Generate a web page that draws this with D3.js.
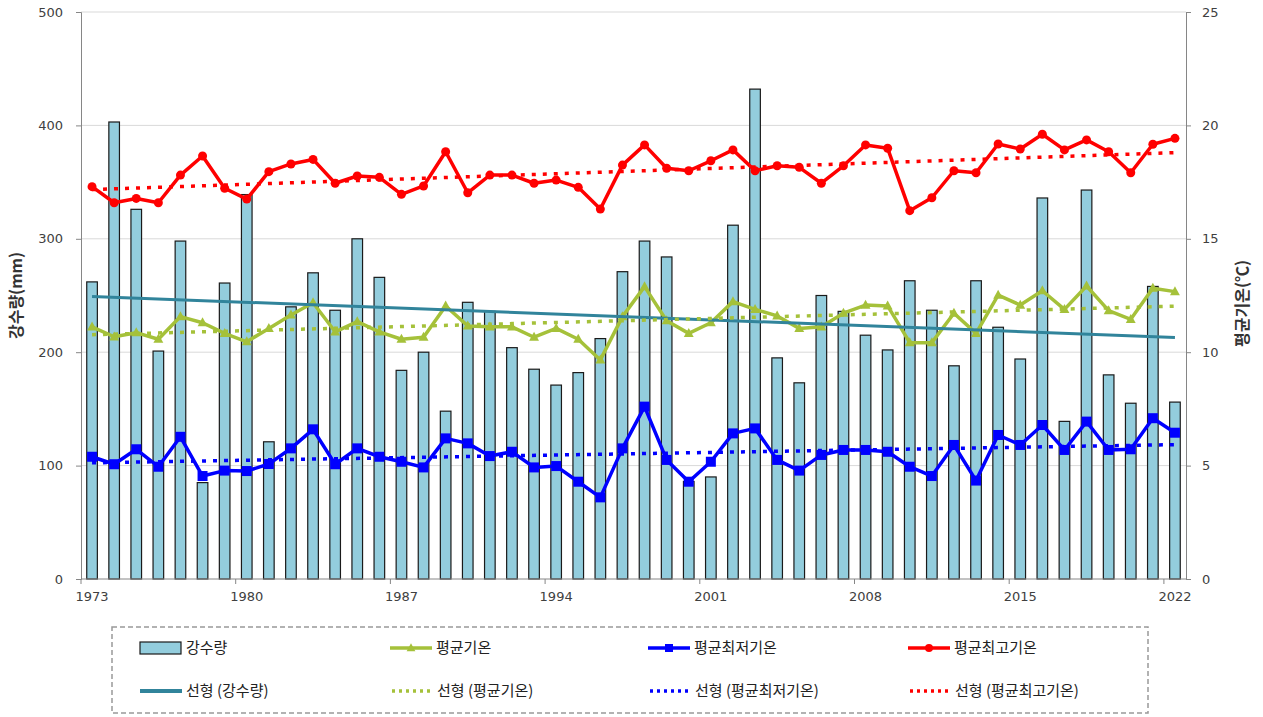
<!DOCTYPE html>
<html>
<head>
<meta charset="utf-8">
<script src="https://cdn.jsdelivr.net/npm/d3@7"></script>
<style>
  body { margin: 0; background: #fff; }
  svg { display: block; }
</style>
</head>
<body>
<svg id="chart" width="1263" height="717"></svg>
<script>
const years = [1973, 1974, 1975, 1976, 1977, 1978, 1979, 1980, 1981, 1982,
    1983, 1984, 1985, 1986, 1987, 1988, 1989, 1990, 1991, 1992,
    1993, 1994, 1995, 1996, 1997, 1998, 1999, 2000, 2001, 2002,
    2003, 2004, 2005, 2006, 2007, 2008, 2009, 2010, 2011, 2012,
    2013, 2014, 2015, 2016, 2017, 2018, 2019, 2020, 2021, 2022];

// 강수량 (mm)
const rain = [262, 403, 326, 201, 298, 85, 261, 339, 121, 240,
    270, 237, 300, 266, 184, 200, 148, 244, 236, 204,
    185, 171, 182, 212, 271, 298, 284, 86, 90, 312,
    432, 195, 173, 250, 236, 215, 202, 263, 237, 188,
    263, 222, 194, 336, 139, 343, 180, 155, 258, 156];

// 평균기온
const avgTemp = [11.12, 10.68, 10.86, 10.57, 11.57, 11.30, 10.83, 10.46, 11.05, 11.64,
    12.18, 10.90, 11.35, 10.90, 10.57, 10.66, 12.04, 11.16, 11.12, 11.12,
    10.66, 11.05, 10.57, 9.66, 11.57, 12.89, 11.39, 10.83, 11.30, 12.23,
    11.89, 11.60, 11.05, 11.12, 11.72, 12.08, 12.04, 10.42, 10.42, 11.72,
    10.83, 12.52, 12.08, 12.71, 11.89, 12.92, 11.83, 11.45, 12.82, 12.67];

// 평균최저기온
const minTemp = [5.39, 5.06, 5.72, 4.95, 6.27, 4.54, 4.78, 4.76, 5.07, 5.76,
    6.60, 5.06, 5.76, 5.39, 5.17, 4.92, 6.20, 5.98, 5.42, 5.61,
    4.92, 4.98, 4.29, 3.60, 5.76, 7.60, 5.25, 4.29, 5.17, 6.42,
    6.64, 5.25, 4.78, 5.47, 5.69, 5.69, 5.61, 4.95, 4.54, 5.91,
    4.34, 6.35, 5.91, 6.79, 5.69, 6.94, 5.69, 5.72, 7.09, 6.45];

// 평균최고기온
const maxTemp = [17.30, 16.59, 16.78, 16.59, 17.81, 18.65, 17.23, 16.75, 17.96, 18.30,
    18.50, 17.45, 17.77, 17.71, 16.96, 17.33, 18.84, 17.03, 17.81, 17.81,
    17.45, 17.59, 17.27, 16.31, 18.25, 19.14, 18.11, 18.00, 18.44, 18.92,
    18.00, 18.22, 18.15, 17.45, 18.22, 19.14, 18.99, 16.24, 16.81, 18.00,
    17.91, 19.18, 18.96, 19.61, 18.92, 19.36, 18.84, 17.91, 19.17, 19.43];

const labelYears = [1973, 1980, 1987, 1994, 2001, 2008, 2015, 2022];
const rainTicks = [0, 100, 200, 300, 400, 500];
const tempTicks = [0, 5, 10, 15, 20, 25];

const COLORS = {
    bar: "#93cddd",
    avg: "#a5c13a",
    min: "#0000ff",
    max: "#ff0000",
    rainTrend: "#31849b",
    axis: "#868686",
    grid: "#d9d9d9",
    text: "#404040"
};

const KFONT = "'Noto Sans CJK KR', 'Noto Sans', sans-serif";
const NFONT = "'DejaVu Sans', Verdana, sans-serif";

const svg = d3.select("#chart");
const plotL = 81, plotR = 1186, plotT = 12, plotB = 579;

const x = d3.scaleBand().domain(years).range([plotL, plotR])
    .paddingInner(0.52).paddingOuter(0.26);
const yRain = d3.scaleLinear().domain([0, 500]).range([plotB, plotT]);
const yTemp = d3.scaleLinear().domain([0, 25]).range([plotB, plotT]);
const cx = d => x(d) + x.bandwidth() / 2;

// linear trend (least squares) like Excel's 선형 추세선
function trend(vals) {
    const n = vals.length;
    const xs = d3.range(n);
    const mx = d3.mean(xs), my = d3.mean(vals);
    let sxy = 0, sxx = 0;
    xs.forEach((xi, i) => { sxy += (xi - mx) * (vals[i] - my); sxx += (xi - mx) * (xi - mx); });
    const b = sxy / sxx, a = my - b * mx;
    return [[years[0], a], [years[n - 1], a + b * (n - 1)]];
}

// grid
svg.append("g")
    .selectAll("line")
    .data(rainTicks.slice(1))
    .enter().append("line")
    .attr("x1", plotL).attr("x2", plotR)
    .attr("y1", d => yRain(d)).attr("y2", d => yRain(d))
    .attr("stroke", COLORS.grid).attr("stroke-width", 1);

// bars
svg.append("g")
    .selectAll("rect")
    .data(years)
    .enter().append("rect")
    .attr("x", d => x(d))
    .attr("width", x.bandwidth())
    .attr("y", (d, i) => yRain(rain[i]))
    .attr("height", (d, i) => plotB - yRain(rain[i]))
    .attr("fill", COLORS.bar)
    .attr("stroke", "#1a1a1a")
    .attr("stroke-width", 1.2);

// axes
const gl = svg.append("g").attr("transform", `translate(${plotL},0)`)
    .call(d3.axisLeft(yRain).tickValues(rainTicks).tickSize(5).tickPadding(13));
const gr = svg.append("g").attr("transform", `translate(${plotR},0)`)
    .call(d3.axisRight(yTemp).tickValues(tempTicks).tickSize(5).tickPadding(11));
const gb = svg.append("g").attr("transform", `translate(0,${plotB})`)
    .call(d3.axisBottom(x).tickValues(labelYears).tickSize(0).tickPadding(13));
gb.selectAll(".domain").attr("d", `M${plotL},0H${plotR}`);

[gl, gr, gb].forEach(g => {
    g.selectAll(".domain").attr("stroke", COLORS.axis);
    g.selectAll(".tick line").attr("stroke", COLORS.axis);
    g.selectAll("text").attr("fill", COLORS.text)
        .style("font-family", NFONT).style("font-size", "13px");
});

// x tick marks sit between categories
const gap = x.step() * x.paddingInner() / 2;
svg.append("g")
    .selectAll("line")
    .data(labelYears)
    .enter().append("line")
    .attr("x1", d => x(d) - gap).attr("x2", d => x(d) - gap)
    .attr("y1", plotB).attr("y2", plotB + 5)
    .attr("stroke", COLORS.axis);

// axis titles
svg.append("text")
    .attr("transform", `translate(22,${(plotT + plotB) / 2}) rotate(-90)`)
    .attr("text-anchor", "middle")
    .style("font-family", KFONT).style("font-size", "16px").style("font-weight", "bold")
    .attr("fill", "#333")
    .text("강수량(mm)");
svg.append("text")
    .attr("transform", `translate(1248,${(plotT + plotB) / 2 + 8}) rotate(-90)`)
    .attr("text-anchor", "middle")
    .style("font-family", KFONT).style("font-size", "16px").style("font-weight", "bold")
    .attr("fill", "#333")
    .text("평균기온(℃)");

const line = d3.line().x(d => cx(d[0])).y(d => d[1]);

// trend lines
const trends = [
    { vals: rain, y: yRain, color: COLORS.rainTrend, dash: null },
    { vals: avgTemp, y: yTemp, color: COLORS.avg, dash: "4 7" },
    { vals: minTemp, y: yTemp, color: COLORS.min, dash: "4 7" },
    { vals: maxTemp, y: yTemp, color: COLORS.max, dash: "4 7" }
];

// series lines
const series = [
    { vals: avgTemp, color: COLORS.avg, marker: "tri" },
    { vals: minTemp, color: COLORS.min, marker: "sq" },
    { vals: maxTemp, color: COLORS.max, marker: "circ" }
];

function drawMarker(g, kind, color, px, py, s) {
    if (kind === "tri") {
        g.append("path").attr("d", `M${px},${py - s * 0.6}L${px + s * 0.55},${py + s * 0.4}L${px - s * 0.55},${py + s * 0.4}Z`)
            .attr("fill", color);
    } else if (kind === "sq") {
        g.append("rect").attr("x", px - s / 2).attr("y", py - s / 2).attr("width", s).attr("height", s)
            .attr("fill", color);
    } else {
        g.append("circle").attr("cx", px).attr("cy", py).attr("r", s / 2).attr("fill", color);
    }
}

const gs = svg.append("g");
series.forEach(s => {
    gs.append("path")
        .datum(years.map((yr, i) => [yr, yTemp(s.vals[i])]))
        .attr("d", line)
        .attr("fill", "none")
        .attr("stroke", s.color)
        .attr("stroke-width", 3.5)
        .attr("stroke-linejoin", "round");
    years.forEach((yr, i) => drawMarker(gs, s.marker, s.color, cx(yr), yTemp(s.vals[i]),
        s.marker === "sq" ? 10 : 9));
});

const gt = svg.append("g");
trends.forEach(t => {
    gt.append("path")
        .datum(trend(t.vals).map(p => [p[0], t.y(p[1])]))
        .attr("d", line)
        .attr("fill", "none")
        .attr("stroke", t.color)
        .attr("stroke-width", t.dash ? 3.5 : 3)
        .attr("stroke-dasharray", t.dash);
});

// legend
const lg = svg.append("g");
lg.append("rect")
    .attr("x", 112).attr("y", 627).attr("width", 1036).attr("height", 86)
    .attr("fill", "none").attr("stroke", "#999").attr("stroke-width", 1.5)
    .attr("stroke-dasharray", "5 3");

const legendItems = [
    { label: "강수량", kind: "bar", col: 0, row: 0 },
    { label: "평균기온", kind: "tri", color: COLORS.avg, col: 1, row: 0 },
    { label: "평균최저기온", kind: "sq", color: COLORS.min, col: 2, row: 0 },
    { label: "평균최고기온", kind: "circ", color: COLORS.max, col: 3, row: 0 },
    { label: "선형 (강수량)", kind: "solid", color: COLORS.rainTrend, col: 0, row: 1 },
    { label: "선형 (평균기온)", kind: "dot", color: COLORS.avg, col: 1, row: 1 },
    { label: "선형 (평균최저기온)", kind: "dot", color: COLORS.min, col: 2, row: 1 },
    { label: "선형 (평균최고기온)", kind: "dot", color: COLORS.max, col: 3, row: 1 }
];
const colX = [140, 390, 648, 908];
const rowY = [648, 691];

legendItems.forEach(it => {
    const x0 = colX[it.col], y0 = rowY[it.row];
    if (it.kind === "bar") {
        lg.append("rect").attr("x", x0).attr("y", y0 - 6).attr("width", 41).attr("height", 12)
            .attr("fill", COLORS.bar).attr("stroke", "#1a1a1a").attr("stroke-width", 1.2);
    } else if (it.kind === "dot") {
        lg.append("line").attr("x1", x0 + 2).attr("x2", x0 + 40).attr("y1", y0).attr("y2", y0)
            .attr("stroke", it.color).attr("stroke-width", 3.5).attr("stroke-dasharray", "3 4");
    } else {
        lg.append("line").attr("x1", x0).attr("x2", x0 + 42).attr("y1", y0).attr("y2", y0)
            .attr("stroke", it.color).attr("stroke-width", it.kind === "solid" ? 4 : 3.5);
        if (it.kind !== "solid") drawMarker(lg, it.kind, it.color, x0 + 21, y0, 8);
    }
    lg.append("text")
        .attr("x", x0 + (it.kind === "dot" ? 47 : 46)).attr("y", y0)
        .attr("dy", "0.35em")
        .style("font-family", KFONT).style("font-size", "15px")
        .attr("fill", "#222")
        .text(it.label);
});
</script>
</body>
</html>
